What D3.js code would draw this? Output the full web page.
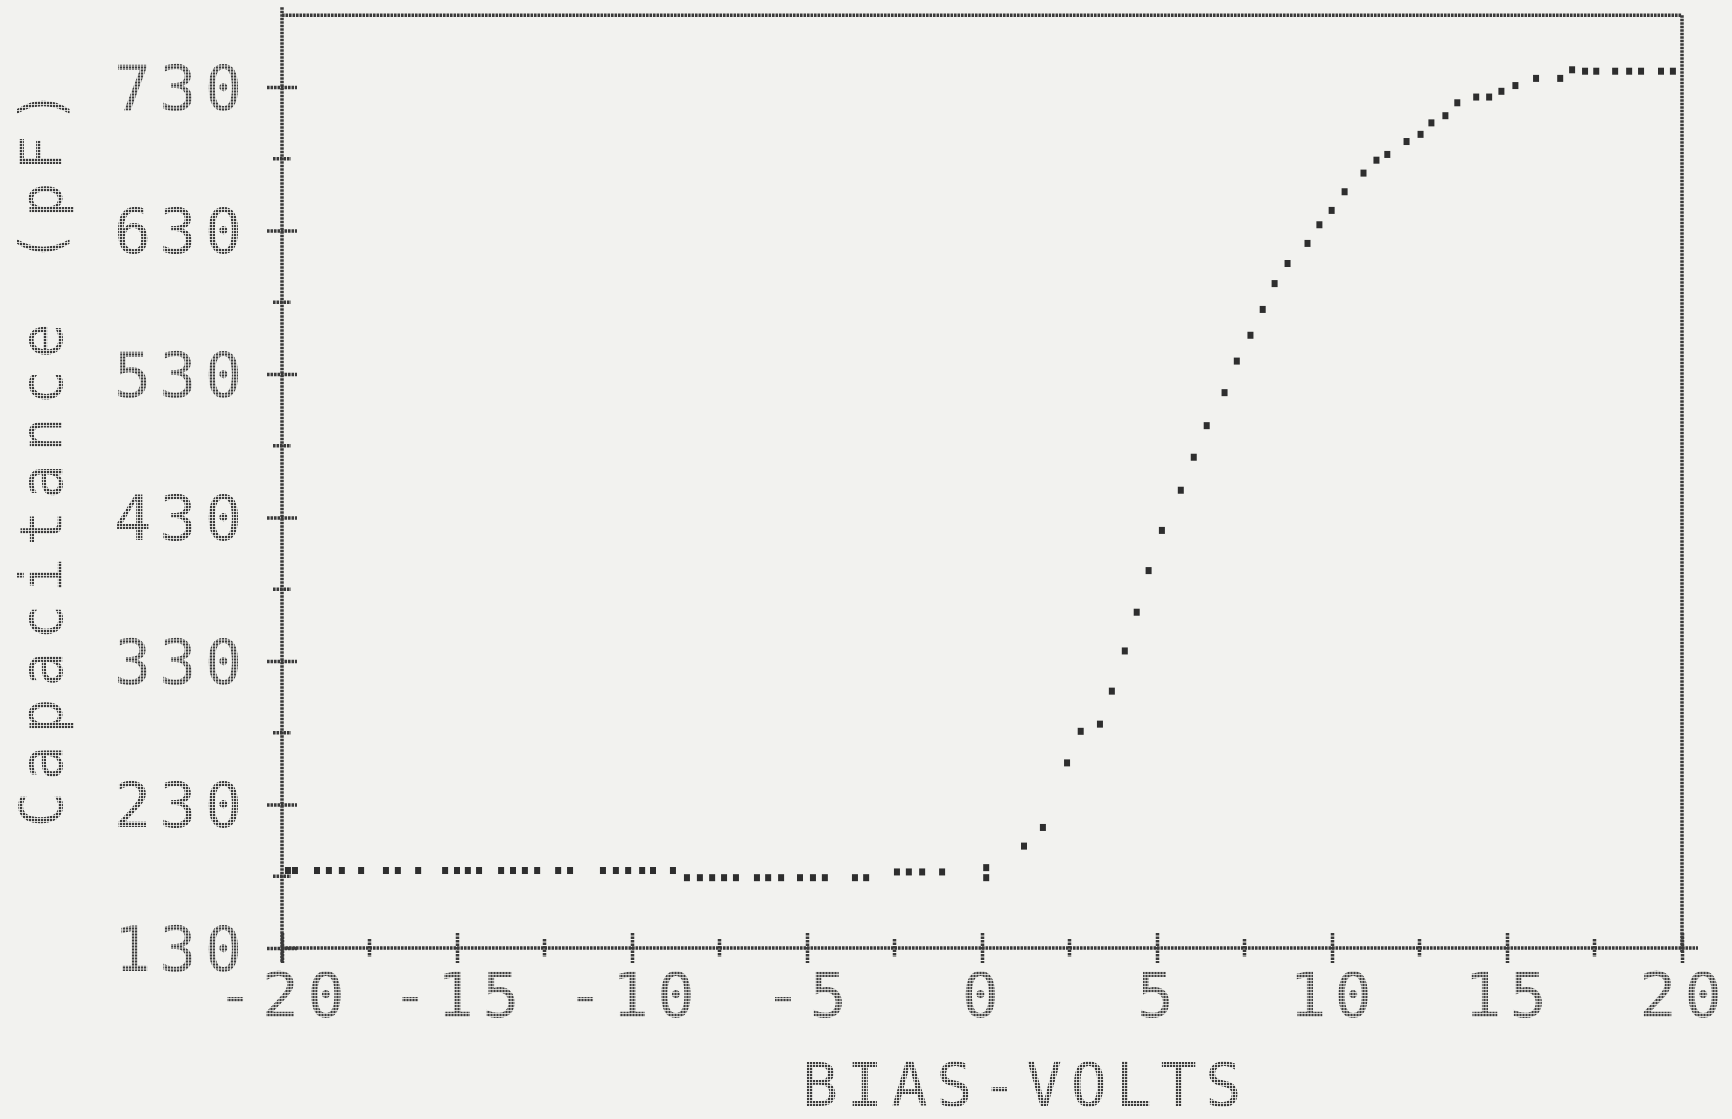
<!DOCTYPE html>
<html>
<head>
<meta charset="utf-8">
<script src="https://cdn.jsdelivr.net/npm/d3@7"></script>
<style>
  html, body { margin: 0; padding: 0; background: #f2f2ef; }
  svg { display: block; }
</style>
</head>
<body>
<svg id="chart" width="1732" height="1119"></svg>
<script>
// ---- data ----
const biasVolts = [
  -19.83, -19.63, -19.00, -18.66, -18.29, -17.74, -17.03, -16.69, -16.11, -15.34,
  -15.00, -14.69, -14.37, -13.74, -13.40, -13.06, -12.71, -12.11, -11.77, -10.83,
  -10.46, -10.11, -9.71, -9.40, -8.83, -8.43, -8.06, -7.71, -7.37, -7.03,
  -6.43, -6.11, -5.74, -5.20, -4.83, -4.49, -3.63, -3.31, -2.43, -2.09,
  -1.71, -1.14, 0.12, 0.12, 1.20, 1.74, 2.43, 2.82, 3.37, 3.71,
  4.08, 4.42, 4.76, 5.14, 5.68, 6.05, 6.42, 6.93, 7.28, 7.67,
  8.02, 8.36, 8.73, 9.30, 9.64, 9.99, 10.36, 10.90, 11.27, 11.58,
  12.13, 12.53, 12.84, 13.24, 13.58, 14.12, 14.49, 14.84, 15.24, 15.83,
  16.52, 16.86, 17.23, 17.55, 18.09, 18.49, 18.83, 19.40, 19.74
];
const capacitance = [
  184, 184, 184, 184, 184, 184, 184, 184, 184, 184,
  184, 184, 184, 184, 184, 184, 184, 184, 184, 184,
  184, 184, 184, 184, 184, 179, 179, 179, 179, 179,
  179, 179, 179, 179, 179, 179, 179, 179, 183, 183,
  183, 183, 186, 179, 201, 214, 259, 281, 286, 309,
  337, 364, 393, 421, 449, 472, 494, 517, 539, 557,
  575, 593, 607, 621, 634, 644, 657, 670, 679, 683,
  692, 697, 705, 710, 719, 723, 723, 727, 731, 736,
  736, 742, 741, 741, 741, 741, 741, 741, 741
];
const xTickValues = [-20, -15, -10, -5, 0, 5, 10, 15, 20];
const xMinorTicks = [-17.5, -12.5, -7.5, -2.5, 2.5, 7.5, 12.5, 17.5];
const yTickValues = [130, 230, 330, 430, 530, 630, 730];
const yMinorTicks = [180, 280, 380, 480, 580, 680];
const yTop = 780;
const xAxisTitle = "BIAS-VOLTS";
const yAxisTitle = "Capacitance (pF)";

// ---- drawing ----
const svg = d3.select("#chart");
const ink = "#3a3a3a";
const font = "'DejaVu Sans Mono', 'Liberation Mono', monospace";

// dot-matrix style fill for the printed text
const defs = svg.append("defs");
const pat = defs.append("pattern").attr("id", "dots")
  .attr("width", 3).attr("height", 3).attr("patternUnits", "userSpaceOnUse");
pat.append("rect").attr("width", 2.2).attr("height", 2.2).attr("fill", "#3c3c3c");
const textInk = "url(#dots)";

const x = d3.scaleLinear().domain([-20, 20]).range([282, 1682]);
const y = d3.scaleLinear().domain([130, 730]).range([948, 87]);

const lineStyle = sel => sel.attr("stroke", ink).attr("stroke-width", 3.5)
  .attr("stroke-dasharray", "2.6 0.9").attr("fill", "none");

const frame = svg.append("g").call(lineStyle);
frame.append("line").attr("x1", x(-20)).attr("x2", x(-20)).attr("y1", y(yTop) - 8).attr("y2", y(130) + 14);
frame.append("line").attr("x1", x(-20)).attr("x2", x(20)).attr("y1", y(yTop)).attr("y2", y(yTop));
frame.append("line").attr("x1", x(20)).attr("x2", x(20)).attr("y1", y(yTop)).attr("y2", y(130) + 4);
frame.append("line").attr("x1", x(-20)).attr("x2", x(20) + 16).attr("y1", y(130)).attr("y2", y(130));

// y axis ticks + labels
const yAxis = d3.axisLeft(y).tickValues(yTickValues).tickSize(15).tickPadding(0)
  .tickFormat(d3.format("d"));
const gy = svg.append("g").attr("transform", `translate(${x(-20)},0)`).call(yAxis);
gy.select(".domain").remove();
gy.selectAll(".tick line").attr("x1", -15).attr("x2", 15).call(lineStyle);
gy.selectAll(".tick text")
  .attr("x", -32).attr("dy", null).attr("y", 22)
  .attr("fill", textInk).attr("font-family", font).attr("font-size", 62)
  .attr("letter-spacing", 8).attr("text-anchor", "end");

svg.append("g").selectAll("line").data(yMinorTicks).join("line")
  .attr("x1", x(-20) - 9).attr("x2", x(-20) + 9)
  .attr("y1", d => y(d)).attr("y2", d => y(d))
  .call(lineStyle);

// x axis ticks + labels
const xAxis = d3.axisBottom(x).tickValues(xTickValues).tickSize(15).tickPadding(0)
  .tickFormat(d3.format("d"));
const gx = svg.append("g").attr("transform", `translate(0,${y(130)})`).call(xAxis);
gx.select(".domain").remove();
gx.selectAll(".tick line").attr("y1", -15).attr("y2", 15).call(lineStyle);
gx.selectAll(".tick text")
  .attr("x", 2).attr("dy", null).attr("y", 69)
  .attr("fill", textInk).attr("font-family", font).attr("font-size", 62)
  .attr("letter-spacing", 8).attr("text-anchor", "middle")
  .text(d => d < 0 ? "-" + Math.abs(d) : String(d));

svg.append("g").selectAll("line").data(xMinorTicks).join("line")
  .attr("x1", d => x(d)).attr("x2", d => x(d))
  .attr("y1", y(130) - 9).attr("y2", y(130) + 9)
  .call(lineStyle);

// titles
svg.append("text")
  .attr("x", 1026).attr("y", 1106)
  .attr("text-anchor", "middle")
  .attr("fill", textInk).attr("font-family", font).attr("font-size", 60)
  .attr("letter-spacing", 8.7)
  .text(xAxisTitle);

svg.append("text")
  .attr("transform", "translate(62,452) rotate(-90)")
  .attr("text-anchor", "middle")
  .attr("fill", textInk).attr("font-family", font).attr("font-size", 58)
  .attr("letter-spacing", 12)
  .text(yAxisTitle);

// data points
const pts = biasVolts.map((v, i) => ({ v, c: capacitance[i] }));
svg.append("g").selectAll("rect").data(pts).join("rect")
  .attr("x", d => x(d.v) - 3).attr("y", d => y(d.c) - 3.5)
  .attr("width", 6).attr("height", 7)
  .attr("fill", "#2e2e2e");
</script>
</body>
</html>
